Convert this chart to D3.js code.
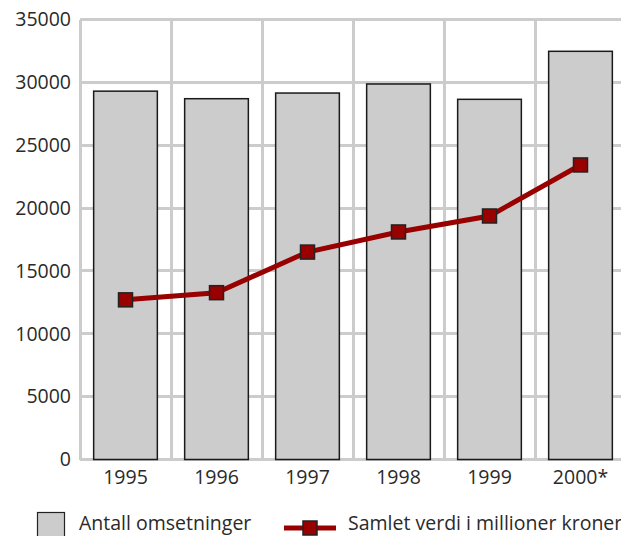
<!DOCTYPE html>
<html lang="no">
<head>
  <meta charset="UTF-8">
  <title>Omsetninger</title>
  <style>
    body { margin: 0; background: #fff; }
    svg { display: block; font-family: "Open Sans", "Noto Sans", sans-serif; }
    .grid line { stroke: #cccccc; stroke-width: 3; shape-rendering: crispEdges; }
    .bar { fill: #cccccc; stroke: #1a1a1a; stroke-width: 1.5; }
    .tick-label { font-size: 19.5px; fill: #2a2a2a; }
    .legend-text { font-size: 19.5px; fill: #2a2a2a; }
  </style>
</head>
<body>
  <div id="chart"></div>
  <script src="https://d3js.org/d3.v7.min.js"></script>
  <script>
    const years = ['1995', '1996', '1997', '1998', '1999', '2000*'];
    const antall = [29300, 28700, 29150, 29870, 28650, 32470];
    const samletVerdi = [12700, 13270, 16500, 18100, 19370, 23430];
    const yTicks = [0, 5000, 10000, 15000, 20000, 25000, 30000, 35000];

    const width = 621, height = 536;
    const margin = { left: 80, top: 19.5, right: -5, bottom: 76.5 };

    const svg = d3.select('#chart').append('svg')
      .attr('width', width)
      .attr('height', height);

    const x = d3.scaleBand()
      .domain(years)
      .range([margin.left, width - margin.right])
      .paddingInner(0.3)
      .paddingOuter(0.15);

    const xEdges = d3.scaleLinear()
      .domain([0, years.length])
      .range([margin.left, width - margin.right]);

    const y = d3.scaleLinear()
      .domain([0, 35000])
      .range([height - margin.bottom, margin.top]);

    // grid
    const grid = svg.append('g').classed('grid', true);
    grid.selectAll('.h')
      .data(yTicks)
      .enter()
      .append('line')
      .attr('x1', margin.left)
      .attr('x2', width)
      .attr('y1', d => y(d))
      .attr('y2', d => y(d));
    grid.selectAll('.v')
      .data(d3.range(years.length + 1))
      .enter()
      .append('line')
      .attr('x1', d => xEdges(d))
      .attr('x2', d => xEdges(d))
      .attr('y1', y(35000))
      .attr('y2', y(0));

    // bars
    svg.append('g')
      .selectAll('.bar')
      .data(antall)
      .enter()
      .append('rect')
      .classed('bar', true)
      .attr('x', (d, i) => x(years[i]))
      .attr('width', x.bandwidth())
      .attr('y', d => y(d))
      .attr('height', d => y(0) - y(d));

    // line
    const line = d3.line()
      .x((d, i) => x(years[i]) + x.bandwidth() / 2)
      .y(d => y(d));

    svg.append('path')
      .datum(samletVerdi)
      .attr('d', line)
      .attr('fill', 'none')
      .attr('stroke', '#990000')
      .attr('stroke-width', 5);

    const ms = 14;
    svg.append('g')
      .selectAll('rect')
      .data(samletVerdi)
      .enter()
      .append('rect')
      .attr('x', (d, i) => x(years[i]) + x.bandwidth() / 2 - ms / 2)
      .attr('y', d => y(d) - ms / 2)
      .attr('width', ms)
      .attr('height', ms)
      .attr('fill', '#990000')
      .attr('stroke', '#222')
      .attr('stroke-width', 1.5);

    // y labels
    svg.append('g')
      .selectAll('text')
      .data(yTicks)
      .enter()
      .append('text')
      .classed('tick-label', true)
      .attr('x', 71)
      .attr('y', d => y(d))
      .attr('dy', '0.35em')
      .attr('text-anchor', 'end')
      .text(d => d);

    // x labels
    svg.append('g')
      .selectAll('text')
      .data(years)
      .enter()
      .append('text')
      .classed('tick-label', true)
      .attr('x', d => x(d) + x.bandwidth() / 2)
      .attr('y', 484)
      .attr('text-anchor', 'middle')
      .text(d => d);

    // legend
    const lg = svg.append('g');
    lg.append('rect')
      .attr('x', 37.5).attr('y', 512.5)
      .attr('width', 27).attr('height', 30)
      .attr('fill', '#cccccc').attr('stroke', '#222').attr('stroke-width', 1.2);
    lg.append('text').classed('legend-text', true)
      .attr('x', 79).attr('y', 530).text('Antall omsetninger');
    lg.append('line')
      .attr('x1', 284).attr('x2', 336).attr('y1', 528).attr('y2', 528)
      .attr('stroke', '#990000').attr('stroke-width', 5);
    lg.append('rect')
      .attr('x', 303).attr('y', 521).attr('width', ms).attr('height', ms)
      .attr('fill', '#990000').attr('stroke', '#222').attr('stroke-width', 1.5);
    lg.append('text').classed('legend-text', true)
      .attr('x', 348).attr('y', 530).text('Samlet verdi i millioner kroner');
  </script>
</body>
</html>
